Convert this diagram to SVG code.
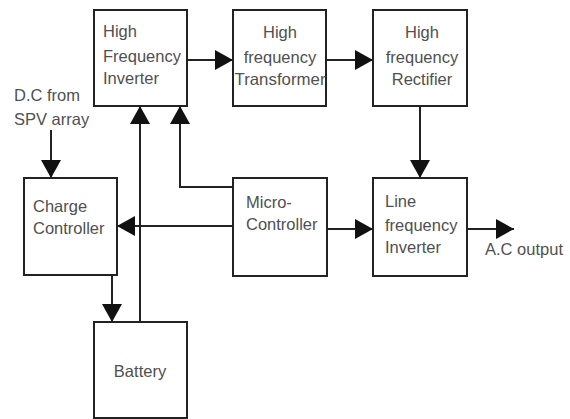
<svg xmlns="http://www.w3.org/2000/svg" width="570" height="419" viewBox="0 0 570 419">
  <style>
    .box { fill: #ffffff; stroke: #222222; stroke-width: 2; }
    .wire { fill: none; stroke: #222222; stroke-width: 2; }
    text { font-family: "Liberation Sans", Arial, sans-serif; font-size: 16.5px; fill: #505050; }
    .c { text-anchor: middle; }
  </style>
  <defs>
    <marker id="arrow" viewBox="0 0 18 20" refX="18" refY="10" markerWidth="18" markerHeight="20" markerUnits="userSpaceOnUse" orient="auto">
      <path d="M0,0 L18,10 L0,20 Z" fill="#111111"/>
    </marker>
  </defs>
  <rect width="570" height="419" fill="#ffffff"/>

  <g id="connectors">
    <line class="wire" x1="187" y1="60" x2="233" y2="60" marker-end="url(#arrow)"/>
    <line class="wire" x1="326" y1="60" x2="373" y2="60" marker-end="url(#arrow)"/>
    <line class="wire" x1="420" y1="106" x2="420" y2="178" marker-end="url(#arrow)"/>
    <line class="wire" x1="327" y1="229" x2="373" y2="229" marker-end="url(#arrow)"/>
    <line class="wire" x1="467" y1="229" x2="514" y2="229" marker-end="url(#arrow)"/>
    <polyline class="wire" points="233,187 180,187 180,106" marker-end="url(#arrow)"/>
    <line class="wire" x1="233" y1="226" x2="117" y2="226" marker-end="url(#arrow)"/>
    <line class="wire" x1="51" y1="130" x2="51" y2="178" marker-end="url(#arrow)"/>
    <line class="wire" x1="112" y1="275" x2="112" y2="322" marker-end="url(#arrow)"/>
    <line class="wire" x1="140" y1="322" x2="140" y2="106" marker-end="url(#arrow)"/>
  </g>

  <g id="hf-inverter">
    <rect class="box" x="94" y="10" width="93" height="96"/>
    <text x="103" y="37">High</text>
    <text x="103" y="62">Frequency</text>
    <text x="103" y="84">Inverter</text>
  </g>

  <g id="hf-transformer">
    <rect class="box" x="233" y="10" width="93" height="96"/>
    <text class="c" x="280" y="38">High</text>
    <text class="c" x="280" y="63">frequency</text>
    <text class="c" x="280" y="85" textLength="91" lengthAdjust="spacingAndGlyphs">Transformer</text>
  </g>

  <g id="hf-rectifier">
    <rect class="box" x="373" y="10" width="94" height="96"/>
    <text class="c" x="422" y="38">High</text>
    <text class="c" x="422" y="63">frequency</text>
    <text class="c" x="422" y="85">Rectifier</text>
  </g>

  <g id="dc-source">
    <text x="14" y="101">D.C from</text>
    <text x="14" y="125">SPV array</text>
  </g>

  <g id="charge-controller">
    <rect class="box" x="24" y="178" width="93" height="97"/>
    <text x="33" y="212">Charge</text>
    <text x="33" y="234">Controller</text>
  </g>

  <g id="micro-controller">
    <rect class="box" x="233" y="178" width="94" height="98"/>
    <text x="246" y="208">Micro-</text>
    <text x="246" y="230">Controller</text>
  </g>

  <g id="line-inverter">
    <rect class="box" x="373" y="178" width="94" height="98"/>
    <text x="385" y="207">Line</text>
    <text x="385" y="231">frequency</text>
    <text x="385" y="253">Inverter</text>
  </g>

  <g id="ac-output">
    <text x="485" y="255">A.C output</text>
  </g>

  <g id="battery">
    <rect class="box" x="94" y="322" width="93" height="96"/>
    <text class="c" x="140" y="377">Battery</text>
  </g>
</svg>
